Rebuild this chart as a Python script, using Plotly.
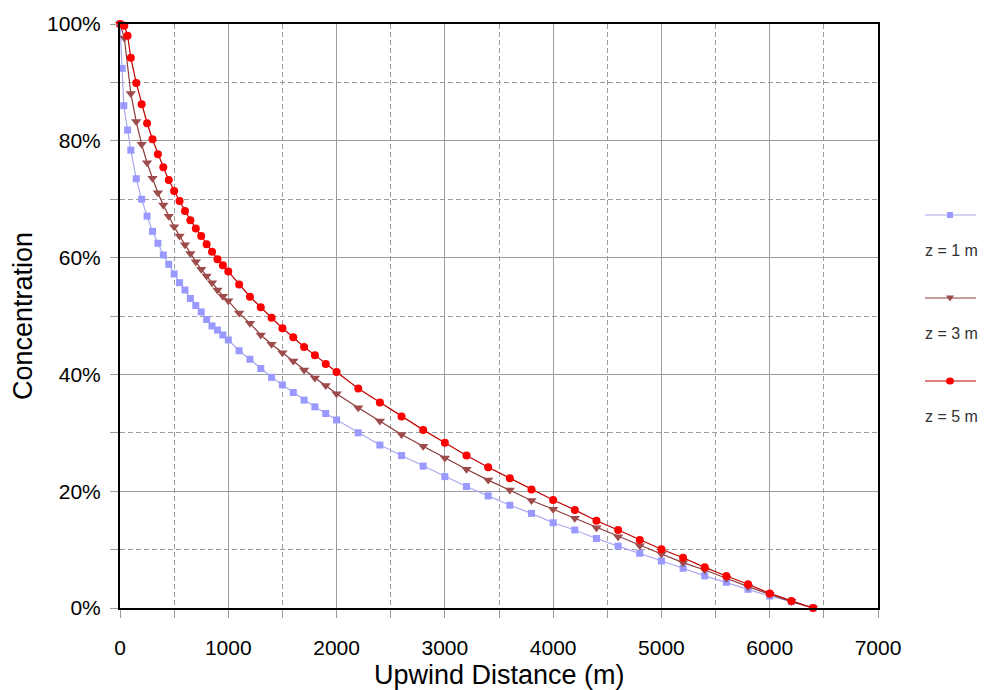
import plotly.graph_objects as go

# ---- data ----
x_z1 = [0, 20, 35, 70, 100, 150, 200, 250, 300, 350, 400, 450, 500, 550, 600, 650, 700, 750, 800,
        850, 900, 950, 1000, 1100, 1200, 1300, 1400, 1500, 1600, 1700, 1800, 1900, 2000,
        2200, 2400, 2600, 2800, 3000, 3200, 3400, 3600, 3800, 4000, 4200, 4400, 4600, 4800,
        5000, 5200, 5400, 5600, 5800, 6000, 6200, 6400]
y_z1 = [100, 92.4, 86.0, 81.85, 78.4, 73.5, 70.0, 67.1, 64.5, 62.45, 60.45, 58.85, 57.2, 55.7, 54.45,
        53.0, 51.8, 50.7, 49.4, 48.3, 47.6, 46.75, 45.9, 44.05, 42.6, 41.0, 39.5, 38.2, 36.9, 35.6,
        34.45, 33.3, 32.2, 30.0, 27.9, 26.1, 24.3, 22.5, 20.8, 19.2, 17.6, 16.2, 14.6, 13.36, 11.9,
        10.6, 9.37, 8.05, 6.8, 5.5, 4.4, 3.2, 2.05, 1.1, 0]

x_z3 = [0, 40, 100, 150, 200, 250, 300, 350, 400, 450, 500, 550, 600, 650, 700, 750, 800,
        850, 900, 950, 1000, 1100, 1200, 1300, 1400, 1500, 1600, 1700, 1800, 1900, 2000,
        2200, 2400, 2600, 2800, 3000, 3200, 3400, 3600, 3800, 4000, 4200, 4400, 4600, 4800,
        5000, 5200, 5400, 5600, 5800, 6000, 6200, 6400]
y_z3 = [100, 97.6, 88.1, 83.3, 79.4, 76.25, 73.6, 71.1, 69.0, 67.1, 65.3, 63.7, 62.2, 60.7, 59.3,
        58.0, 56.85, 55.7, 54.45, 53.4, 52.6, 50.5, 48.75, 46.75, 45.15, 43.7, 42.3, 40.75, 39.4,
        38.1, 36.7, 34.3, 32.0, 29.7, 27.7, 25.7, 23.75, 21.9, 20.2, 18.4, 16.9, 15.36, 13.75,
        12.2, 10.67, 9.25, 7.76, 6.5, 5.1, 3.65, 2.35, 1.1, 0]

x_z5 = [0, 40, 70, 100, 150, 200, 250, 300, 350, 400, 450, 500, 550, 600, 650, 700, 750, 800,
        850, 900, 950, 1000, 1100, 1200, 1300, 1400, 1500, 1600, 1700, 1800, 1900, 2000,
        2200, 2400, 2600, 2800, 3000, 3200, 3400, 3600, 3800, 4000, 4200, 4400, 4600, 4800,
        5000, 5200, 5400, 5600, 5800, 6000, 6200, 6400]
y_z5 = [100, 99.7, 98.0, 94.2, 89.9, 86.25, 83.0, 80.26, 77.7, 75.46, 73.29, 71.4, 69.7, 68.0,
        66.4, 65.0, 63.7, 62.3, 61.0, 59.7, 58.7, 57.6, 55.4, 53.3, 51.5, 49.7, 47.9, 46.35, 44.7,
        43.3, 41.8, 40.4, 37.6, 35.2, 32.8, 30.5, 28.3, 26.1, 24.1, 22.2, 20.3, 18.5, 16.8, 14.95,
        13.36, 11.64, 10.05, 8.6, 6.96, 5.48, 4.06, 2.5, 1.2, 0]

series_names = ["z = 1 m", "z = 3 m", "z = 5 m"]
x_ticks = [0, 1000, 2000, 3000, 4000, 5000, 6000, 7000]
y_ticks = [0, 20, 40, 60, 80, 100]
x_title = "Upwind Distance (m)"
y_title = "Concentration"

# ---- styles ----
OX, OY = 8, 8                      # page body margin
W, H = 987 - 2 * OX, 690 - OY
ML, MR, MT, MB = 112, 101, 16, 82
FONT = "Arial, Liberation Sans, sans-serif"
GRID = "#9C9C9C"
styles = [
    dict(line=dict(color="#A8A8F0", width=1.2), marker=dict(symbol="square", size=7, color="#9999FF")),
    dict(line=dict(color="#8B3A3A", width=1.2), marker=dict(symbol="triangle-down", size=9, color="#9E4B4B")),
    dict(line=dict(color="#C00000", width=1.2), marker=dict(symbol="circle", size=8, color="#FF0000")),
]

fig = go.Figure()
for xs, ys, name, st in zip([x_z1, x_z3, x_z5], [y_z1, y_z3, y_z5], series_names, styles):
    fig.add_trace(go.Scatter(x=xs, y=ys, mode="lines+markers", name=name,
                             line=st["line"], marker=st["marker"], cliponaxis=False,
                             showlegend=False))

# ---- custom legend (symbol above, text below) ----
pw, ph = W - ML - MR, H - MT - MB
def px(xp):
    return (xp - OX - ML) / pw
def py(yp):
    return (OY + H - MB - yp) / ph

shapes = []
annotations = []
leg_line_y = [215, 298, 381]
for i, (name, st) in enumerate(zip(series_names, styles)):
    yl = leg_line_y[i]
    shapes.append(dict(type="line", xref="paper", yref="paper", x0=px(925), x1=px(976),
                       y0=py(yl), y1=py(yl), line=dict(color=st["line"]["color"], width=1.2)))
    mc = st["marker"]["color"]
    if i == 0:
        shapes.append(dict(type="rect", xref="paper", yref="paper", x0=px(947), x1=px(953),
                           y0=py(yl + 3), y1=py(yl - 3), fillcolor=mc, line=dict(width=0)))
    elif i == 1:
        path = f"M {px(946)} {py(yl - 2.5)} L {px(954)} {py(yl - 2.5)} L {px(950)} {py(yl + 3.5)} Z"
        shapes.append(dict(type="path", xref="paper", yref="paper", path=path,
                           fillcolor=mc, line=dict(width=0)))
    else:
        shapes.append(dict(type="circle", xref="paper", yref="paper", x0=px(946), x1=px(954),
                           y0=py(yl + 3.5), y1=py(yl - 3.5), fillcolor=mc, line=dict(width=0)))
    annotations.append(dict(text=name, xref="paper", yref="paper", x=px(951), y=py(yl + 35),
                            xanchor="center", yanchor="middle", showarrow=False,
                            font=dict(family=FONT, size=16, color="#333333")))

# x-axis title as annotation (fixed position under the tick labels)
annotations.append(dict(text=x_title, xref="paper", yref="paper", x=0.5, y=py(675),
                        xanchor="center", yanchor="middle", showarrow=False,
                        font=dict(family=FONT, size=27, color="black")))

fig.update_layout(
    width=W, height=H,
    margin=dict(l=ML, r=MR, t=MT, b=MB, autoexpand=False),
    paper_bgcolor="white", plot_bgcolor="white",
    font=dict(family=FONT, color="black"),
    shapes=shapes, annotations=annotations,
    showlegend=False,
)
fig.update_xaxes(
    range=[0, 7000], tickvals=x_ticks, ticktext=[str(v) for v in x_ticks],
    showgrid=True, gridcolor=GRID, gridwidth=1,
    minor=dict(dtick=500, showgrid=True, gridcolor=GRID, griddash="5px,3px",
               ticks="outside", ticklen=8, tickcolor=GRID),
    ticks="outside", ticklen=8, tickcolor=GRID, ticklabelstandoff=12,
    showline=True, linecolor="black", linewidth=2, mirror=True,
    tickfont=dict(size=21, family=FONT), zeroline=False, automargin=False,
)
fig.update_yaxes(
    range=[0, 100], tickvals=y_ticks, ticktext=[f"{v}%" for v in y_ticks],
    showgrid=True, gridcolor=GRID, gridwidth=1,
    minor=dict(dtick=10, showgrid=True, gridcolor=GRID, griddash="5px,3px",
               ticks="outside", ticklen=8, tickcolor=GRID),
    ticks="outside", ticklen=8, tickcolor=GRID, ticklabelstandoff=5,
    showline=True, linecolor="black", linewidth=2, mirror=True,
    tickfont=dict(size=21, family=FONT), zeroline=False, automargin=False,
    title=dict(text=y_title, font=dict(size=27, family=FONT), standoff=8),
)

fig.write_html("out.html")
